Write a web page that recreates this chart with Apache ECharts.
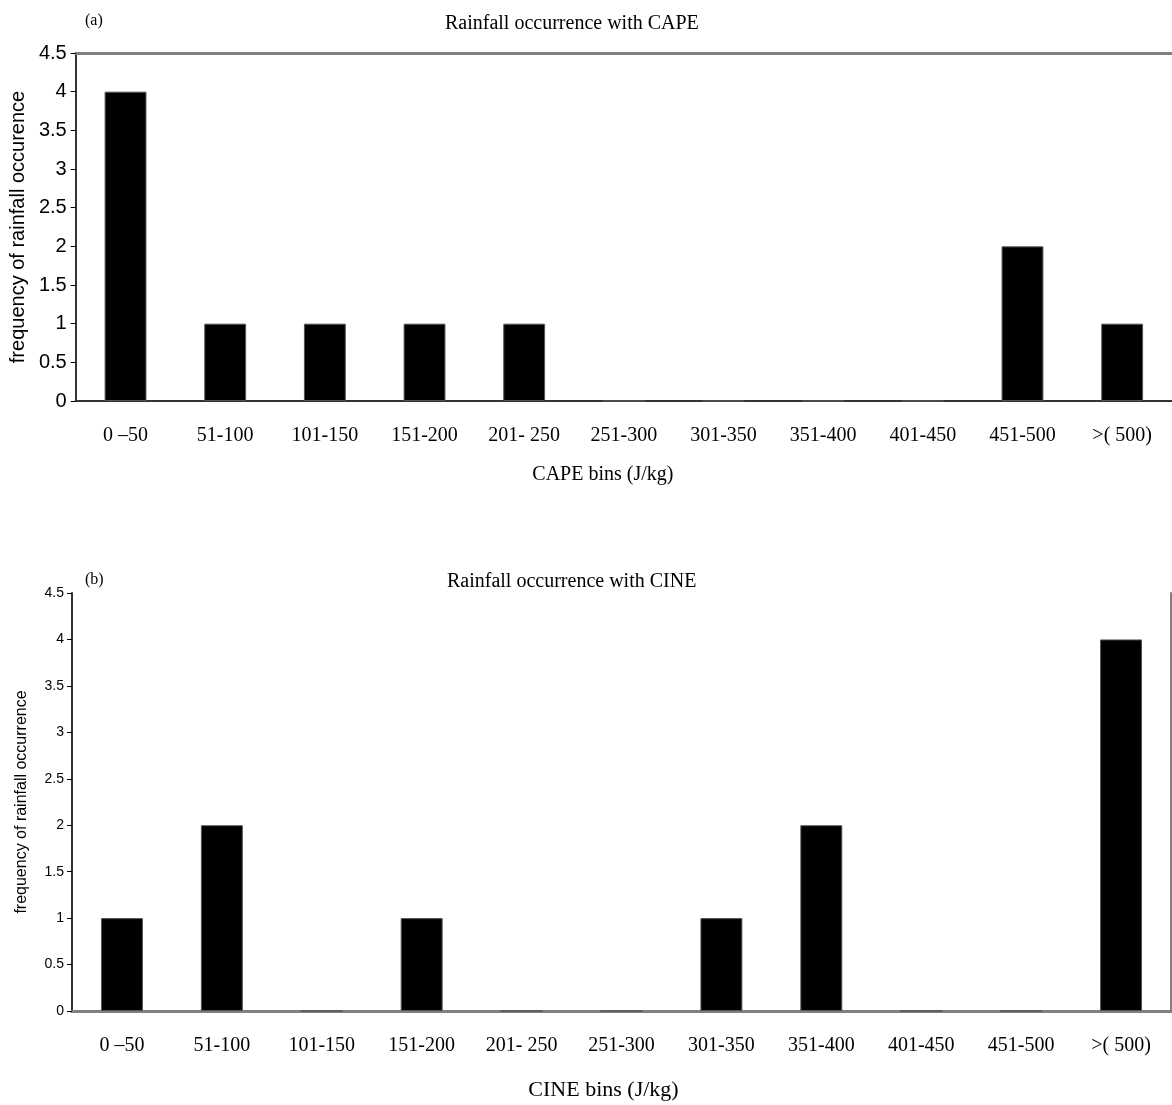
<!DOCTYPE html>
<html>
<head>
<meta charset="utf-8">
<script src="https://cdn.jsdelivr.net/npm/echarts@6/dist/echarts.min.js"></script>
<style>html,body{margin:0;padding:0;background:#fff}#c{width:1172px;height:1105px}</style>
</head>
<body>
<div id="c"></div>
<script>
const binsCape = ['0 \u201350','51-100','101-150','151-200','201- 250','251-300','301-350','351-400','401-450','451-500','>( 500)'];
const binsCine = ['0 \u201350','51-100','101-150','151-200','201- 250','251-300','301-350','351-400','401-450','451-500','>( 500)'];
const capeFreq = [4,1,1,1,1,0,0,0,0,2,1];
const cineFreq = [1,2,0,1,0,0,1,2,0,0,4];
const yTicksMax = 4.5;

const serif = 'Liberation Serif, Times New Roman, serif';
const sans = 'Liberation Sans, Arial, sans-serif';

const chart = echarts.init(document.getElementById('c'));
chart.setOption({
  animation: false,
  backgroundColor: '#fff',
  title: [
    {text: '(a)', left: 80, top: 8, textStyle: {fontFamily: serif, fontSize: 16, fontWeight: 'normal', color: '#000'}},
    {text: 'Rainfall occurrence with CAPE', left: 440, top: 9, textStyle: {fontFamily: serif, fontSize: 20, fontWeight: 'normal', color: '#000'}},
    {text: '(b)', left: 80, top: 567, textStyle: {fontFamily: serif, fontSize: 16, fontWeight: 'normal', color: '#000'}},
    {text: 'Rainfall occurrence with CINE', left: 442, top: 567, textStyle: {fontFamily: serif, fontSize: 20, fontWeight: 'normal', color: '#000'}}
  ],
  grid: [
    {left: 75, top: 53, width: 1104, height: 348},
    {left: 72, top: 593, width: 1099, height: 418}
  ],
  xAxis: [
    {type: 'category', gridIndex: 0, data: binsCape,
     axisLine: {lineStyle: {color: '#333', width: 2}},
     axisTick: {length: 8, lineStyle: {color: '#000'}},
     axisLabel: {fontFamily: serif, fontSize: 20, color: '#000', margin: 25, interval: 0},
     name: 'CAPE bins (J/kg)', nameLocation: 'middle', nameGap: 64,
     nameTextStyle: {fontFamily: serif, fontSize: 20, color: '#000', padding: [0, 42, 0, 0]}},
    {type: 'category', gridIndex: 1, data: binsCine,
     axisLine: {lineStyle: {color: '#333', width: 2}},
     axisTick: {length: 8, lineStyle: {color: '#000'}},
     axisLabel: {fontFamily: serif, fontSize: 20, color: '#000', margin: 25, interval: 0},
     name: 'CINE bins (J/kg)', nameLocation: 'middle', nameGap: 68,
     nameTextStyle: {fontFamily: serif, fontSize: 22, color: '#000', padding: [0, 36, 0, 0]}},
    {type: 'category', gridIndex: 0, position: 'top', data: binsCape,
     axisLine: {lineStyle: {color: '#808080', width: 3}}, axisTick: {show: false}, axisLabel: {show: false}},
    {type: 'category', gridIndex: 1, position: 'top', data: binsCine,
     axisLine: {lineStyle: {color: '#808080', width: 3}}, axisTick: {show: false}, axisLabel: {show: false}}
  ],
  yAxis: [
    {type: 'value', gridIndex: 0, min: 0, max: yTicksMax, interval: 0.5,
     axisLine: {show: true, lineStyle: {color: '#333', width: 2}},
     axisTick: {show: true, length: 5, lineStyle: {color: '#000'}},
     splitLine: {show: false},
     axisLabel: {fontFamily: sans, fontSize: 20, color: '#000', margin: 9},
     name: 'frequency of rainfall occurence', nameLocation: 'middle', nameGap: 37, nameRotate: 90,
     nameTextStyle: {fontFamily: sans, fontSize: 20, color: '#000'}},
    {type: 'value', gridIndex: 1, min: 0, max: yTicksMax, interval: 0.5,
     axisLine: {show: true, lineStyle: {color: '#333', width: 2}},
     axisTick: {show: true, length: 5, lineStyle: {color: '#000'}},
     splitLine: {show: false},
     axisLabel: {fontFamily: sans, fontSize: 14, color: '#000', margin: 8},
     name: 'frequency of rainfall occurrence', nameLocation: 'middle', nameGap: 42, nameRotate: 90,
     nameTextStyle: {fontFamily: sans, fontSize: 16, color: '#000'}},
    {type: 'value', gridIndex: 1, position: 'right', min: 0, max: yTicksMax,
     axisLine: {show: true, lineStyle: {color: '#808080', width: 2}},
     axisTick: {show: false}, axisLabel: {show: false}, splitLine: {show: false}}
  ],
  series: [
    {type: 'bar', xAxisIndex: 0, yAxisIndex: 0, data: capeFreq, barWidth: '42%',
     itemStyle: {color: '#000', borderColor: '#555', borderWidth: 1}},
    {type: 'bar', xAxisIndex: 1, yAxisIndex: 1, data: cineFreq, barWidth: '42%',
     itemStyle: {color: '#000', borderColor: '#555', borderWidth: 1}}
  ]
});
</script>
</body>
</html>
